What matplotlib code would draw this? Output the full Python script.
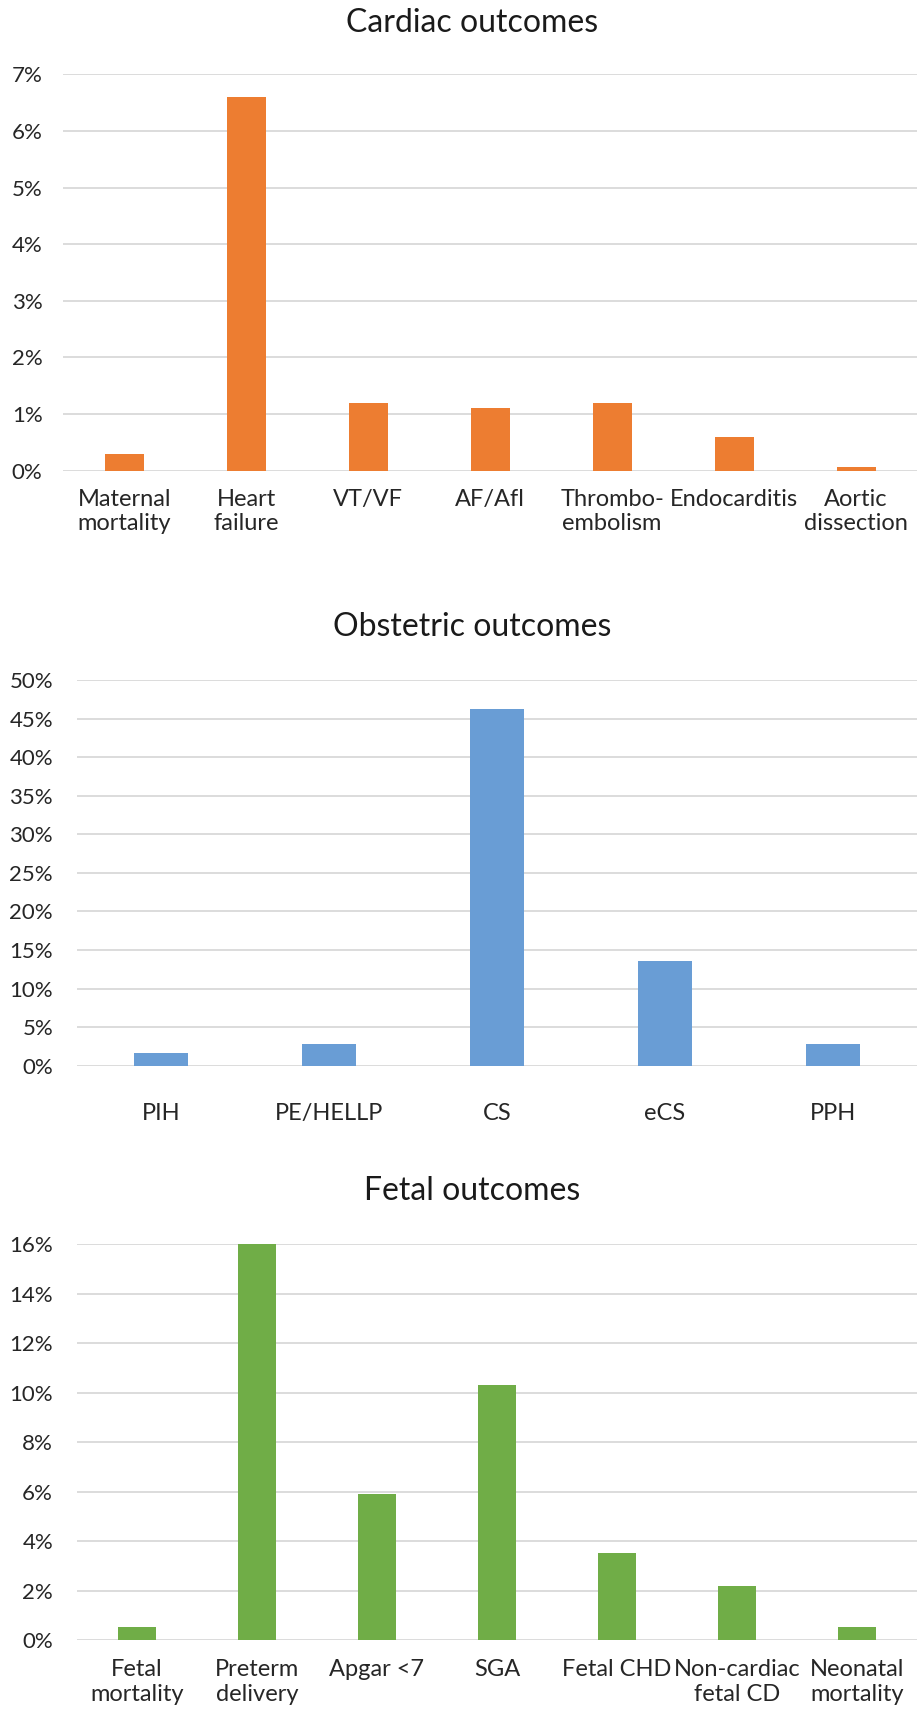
import numpy as np
import matplotlib.pyplot as plt
from matplotlib.ticker import FuncFormatter

# values (percent)
cardiac_labels = ["Maternal\nmortality", "Heart\nfailure", "VT/VF", "AF/Afl",
                  "Thrombo-\nembolism", "Endocarditis", "Aortic\ndissection"]
cardiac_values = [0.3, 6.6, 1.2, 1.1, 1.2, 0.6, 0.06]

obstetric_labels = ["PIH", "PE/HELLP", "CS", "eCS", "PPH"]
obstetric_values = [1.7, 2.8, 46.2, 13.6, 2.8]

fetal_labels = ["Fetal\nmortality", "Preterm\ndelivery", "Apgar <7", "SGA",
                "Fetal CHD", "Non-cardiac\nfetal CD", "Neonatal\nmortality"]
fetal_values = [0.53, 16.0, 5.9, 10.3, 3.5, 2.2, 0.53]

plt.rcParams['font.family'] = ['Lato', 'DejaVu Sans']

W, H = 918, 1714
fig = plt.figure(figsize=(W / 100, H / 100), dpi=100)


def px_axes(left, right, top, bottom):
    return fig.add_axes([left / W, 1 - bottom / H, (right - left) / W, (bottom - top) / H])


def draw_panel(ax, labels, values, color, ymax, step, ypad, xpad):
    x = np.arange(len(labels))
    ax.bar(x, values, width=0.32, color=color, zorder=3)
    ax.set_xlim(-0.5, len(labels) - 0.5)
    ax.set_ylim(0, ymax)
    ax.set_yticks(np.arange(0, ymax + step / 2, step))
    ax.yaxis.set_major_formatter(FuncFormatter(lambda v, _: f"{v:.0f}%"))
    ax.set_xticks(x)
    ax.set_xticklabels(labels, linespacing=1.22)
    ax.grid(axis='y', color='#d9d9d9', linewidth=1.3, zorder=0)
    for s in ax.spines.values():
        s.set_visible(False)
    ax.tick_params(axis='y', length=0, pad=ypad, labelsize=16, labelcolor='#262626')
    ax.tick_params(axis='x', length=0, pad=xpad, labelsize=17, labelcolor='#262626')
    ax.set_facecolor('none')


ax1 = px_axes(63.3, 917, 74.3, 470.7)
draw_panel(ax1, cardiac_labels, cardiac_values, '#ED7D31', 7, 1, 15, 13)

ax2 = px_axes(76.7, 917, 680, 1065.7)
draw_panel(ax2, obstetric_labels, obstetric_values, '#699DD5', 50, 5, 17, 27)

ax3 = px_axes(76.7, 917, 1244.3, 1640)
draw_panel(ax3, fetal_labels, fetal_values, '#70AD47', 16, 2, 17, 14)

title_kw = dict(ha='center', va='center', fontsize=23, color='#1a1a1a')
fig.text(472 / W, 1 - 23 / H, "Cardiac outcomes", **title_kw)
fig.text(472 / W, 1 - 627 / H, "Obstetric outcomes", **title_kw)
fig.text(472 / W, 1 - 1191 / H, "Fetal outcomes", **title_kw)

fig.savefig("out.png", dpi=100)
